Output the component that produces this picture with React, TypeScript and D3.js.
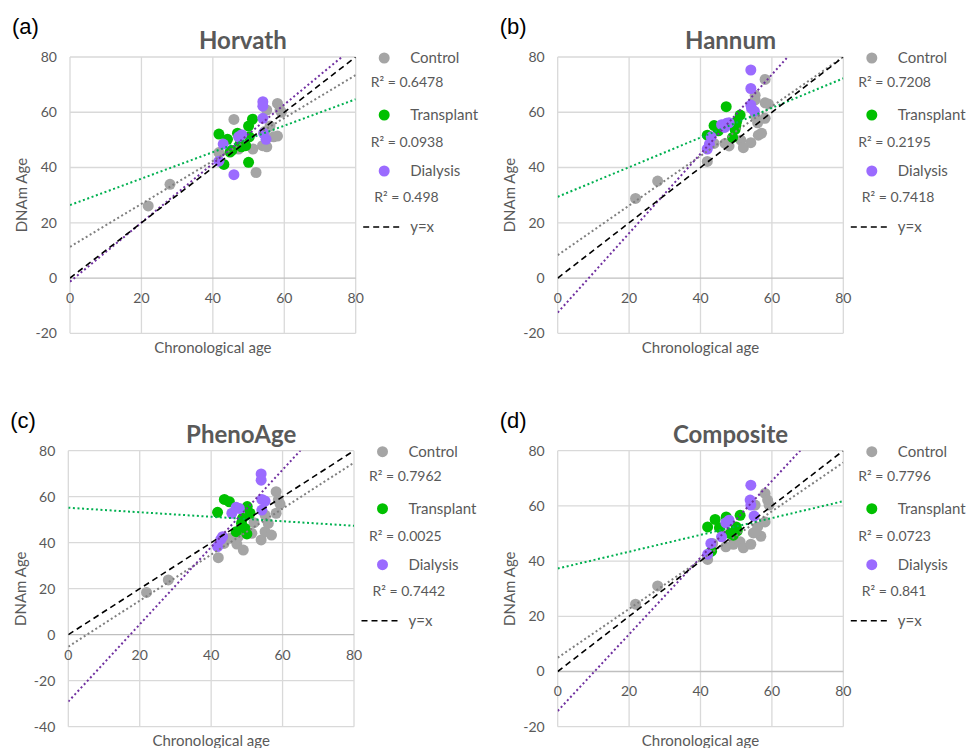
import * as d3 from "d3";

type Pt = [number, number];

// series shared by the four clocks
const seriesNames = ["Control", "Transplant", "Dialysis"];
const markerColors = ["#a5a5a5", "#00c000", "#9b6bff"];
const trendColors = ["#7f7f7f", "#00b050", "#7030a0"];
const xTickValues = [0, 20, 40, 60, 80];

// (a) Horvath
const horvathControl: Pt[] = [
  [21.9, 26.1], [28, 33.9], [41.7, 45.4], [45.9, 57.4], [47.2, 46.7], [51.2, 46.7],
  [52.1, 38.2], [53.9, 47.9], [55.1, 47.5], [55.1, 60.8], [56, 55], [57, 51.1],
  [58.1, 51.4], [58.1, 63.2], [58.8, 60.8], [59.2, 60], [54.5, 53],
];
const horvathTransplant: Pt[] = [
  [41.7, 52.1], [43.1, 41.1], [44.1, 50.2], [44.8, 45.6], [45.3, 46.2], [46.9, 52.4],
  [47.6, 48.5], [49.2, 47.9], [50, 41.9], [50, 55], [51.1, 57.5], [50.2, 51.1], [48, 47.5],
];
const horvathDialysis: Pt[] = [
  [41.7, 42.3], [42.9, 48.5], [45.9, 37.4], [47.2, 51.1], [48.1, 51.9], [54, 57.8],
  [54, 63.8], [54, 62.2], [54.9, 50.2], [54.2, 52.4],
];
const horvathFits: Pt[] = [[11.3, 0.777], [26.4, 0.479], [-1.3, 1.068]];
const horvathR2 = ["0.6478", "0.0938", "0.498"];

// (b) Hannum
const hannumControl: Pt[] = [
  [21.8, 28.8], [28, 35.1], [41.9, 42.2], [43.8, 48.7], [46.9, 48.7], [48, 47.8],
  [51.3, 49.9], [52, 47.2], [54.1, 49], [55.3, 66.2], [55.3, 64.5], [56, 56.2],
  [56.2, 51.7], [57.1, 52.4], [58.1, 71.9], [58.1, 63.4], [59, 63], [58.1, 57.8], [55.3, 58.6],
];
const hannumTransplant: Pt[] = [
  [41.9, 51.7], [43.8, 55.2], [45, 53.3], [47.2, 62], [49, 50.9], [49.7, 53.8],
  [50.1, 56.6], [51.1, 59], [49.9, 55.2],
];
const hannumDialysis: Pt[] = [
  [41.9, 46.7], [43, 51.1], [42.5, 48.5], [45.9, 55.5], [47.3, 56], [48, 56.2], [46.8, 54.5],
  [54.1, 75.3], [54.1, 68.6], [54.1, 62.6], [54.3, 61.4], [55.1, 60.4],
];
const hannumFits: Pt[] = [[8.3, 0.897], [29.4, 0.536], [-12.5, 1.436]];
const hannumR2 = ["0.7208", "0.2195", "0.7418"];

// (c) PhenoAge
const phenoControl: Pt[] = [
  [21.9, 18.4], [28, 23.8], [42, 33.5], [43.6, 39.7], [45.3, 41.9], [47.2, 39.4],
  [47.6, 42.6], [49, 36.8], [51.4, 44.1], [52, 48.7], [54, 41.2], [55.1, 44.8],
  [55.1, 52], [56, 48.4], [56.9, 43.3], [58.2, 62.2], [58.2, 52.8], [58.8, 58.6], [59.3, 56.8],
];
const phenoTransplant: Pt[] = [
  [41.8, 53.2], [43.7, 58.8], [45.1, 57.8], [47, 44.8], [48.8, 50.6], [49.5, 46.2],
  [50, 43.8], [50.1, 55.7], [50.9, 52.8], [48.5, 48.5],
];
const phenoDialysis: Pt[] = [
  [41.8, 38.3], [42.7, 41.4], [43.2, 42.6], [45.8, 52.8], [47, 55.4], [47.9, 54.9],
  [54, 69.9], [54, 67.2], [54.2, 58.8], [54.2, 54.2], [55.1, 58.1],
];
const phenoFits: Pt[] = [[-5.2, 1.0], [55.2, -0.098], [-29.1, 1.68]];
const phenoR2 = ["0.7962", "0.0025", "0.7442"];

// (d) Composite
const compControl: Pt[] = [
  [21.8, 24.4], [28, 31], [42, 40.6], [43.4, 46.4], [47.1, 45.2], [49.2, 46.1],
  [51.1, 47], [52, 44.8], [54.1, 46.1], [54.8, 50.2], [55.3, 60.3], [56, 52.4],
  [56.9, 49], [58.1, 64.5], [58.1, 54.2], [58.8, 62.1], [59.2, 60.3], [55.5, 50.5],
];
const compTransplant: Pt[] = [
  [42, 52.4], [43.1, 43.6], [44.1, 55.1], [45.3, 52.1], [47.2, 56], [48.3, 50],
  [49.2, 49.4], [50, 52.4], [50.3, 51], [51.1, 56.6],
];
const compDialysis: Pt[] = [
  [42, 42.5], [42.9, 46.4], [45.9, 48.8], [47.1, 53.9], [48, 54.8], [54.1, 67.5],
  [53.9, 62.1], [54.1, 60.3], [55, 56.3],
];
const compFits: Pt[] = [[5.0, 0.884], [37.3, 0.305], [-14.3, 1.389]];
const compR2 = ["0.7796", "0.0723", "0.841"];

const panels = [
  {
    id: "a", label: "(a)", title: "Horvath", left: 70, right: 355.7, top: 57, bottom: 333.3,
    yMin: -20, series: [horvathControl, horvathTransplant, horvathDialysis], fits: horvathFits, r2: horvathR2,
  },
  {
    id: "b", label: "(b)", title: "Hannum", left: 557.7, right: 843.3, top: 57, bottom: 333.3,
    yMin: -20, series: [hannumControl, hannumTransplant, hannumDialysis], fits: hannumFits, r2: hannumR2,
  },
  {
    id: "c", label: "(c)", title: "PhenoAge", left: 68.3, right: 354, top: 450.7, bottom: 726.7,
    yMin: -40, series: [phenoControl, phenoTransplant, phenoDialysis], fits: phenoFits, r2: phenoR2,
  },
  {
    id: "d", label: "(d)", title: "Composite", left: 557.7, right: 843.3, top: 450.7, bottom: 726.7,
    yMin: -20, series: [compControl, compTransplant, compDialysis], fits: compFits, r2: compR2,
  },
];

const FONT = "Lato, 'Open Sans', sans-serif";
const TEXT = "#595959";

function Panel({ p }: { p: (typeof panels)[number] }) {
  const x = d3.scaleLinear().domain([0, 80]).range([p.left, p.right]);
  const y = d3.scaleLinear().domain([p.yMin, 80]).range([p.bottom, p.top]);
  const yTicks = d3.range(p.yMin, 81, 20);
  const line = d3
    .line<Pt>()
    .x((d) => x(d[0]))
    .y((d) => y(d[1]));
  const cx = (p.left + p.right) / 2;
  const cy = (p.top + p.bottom) / 2;
  const R = p.right;
  const T = p.top;
  // legend rows: marker, r2 text
  const rowY = [0, 57, 113];
  const r2Y = [25, 85, 140];
  const r2X = [15, 15, 18.5];

  return (
    <g>
      <defs>
        <clipPath id={`clip-${p.id}`}>
          <rect x={p.left} y={p.top} width={p.right - p.left} height={p.bottom - p.top} />
        </clipPath>
      </defs>
      <text x={p.left - 58} y={p.top - 23} fontFamily="'Liberation Sans', Arial, sans-serif" fontSize={22} fill="#000">
        {p.label}
      </text>
      <text x={cx + 30} y={p.top - 8} textAnchor="middle" fontFamily={FONT} fontWeight={700} fontSize={24} fill={TEXT}>
        {p.title}
      </text>
      {/* grid */}
      {xTickValues.map((t) => (
        <line key={"gx" + t} x1={x(t)} x2={x(t)} y1={p.top} y2={p.bottom} stroke="#d9d9d9" strokeWidth={1.3} />
      ))}
      {yTicks.map((t) => (
        <line
          key={"gy" + t}
          x1={p.left}
          x2={p.right}
          y1={y(t)}
          y2={y(t)}
          stroke={t === 0 ? "#bfbfbf" : "#d9d9d9"}
          strokeWidth={1.3}
        />
      ))}
      {/* tick labels */}
      {yTicks.map((t) => (
        <text
          key={"ty" + t}
          x={p.left - 13}
          y={y(t)}
          dy="0.35em"
          textAnchor="end"
          fontFamily={FONT}
          fontSize={14}
          fill={TEXT}
        >
          {t}
        </text>
      ))}
      {xTickValues.map((t) => (
        <text
          key={"tx" + t}
          x={x(t)}
          y={y(0) + 20}
          dy="0.35em"
          textAnchor="middle"
          fontFamily={FONT}
          fontSize={14}
          fill={TEXT}
        >
          {t}
        </text>
      ))}
      {/* axis titles */}
      <text x={cx} y={p.bottom + 19.5} textAnchor="middle" fontFamily={FONT} fontSize={15} fill={TEXT}>
        Chronological age
      </text>
      <text
        transform={`translate(${p.left - 48},${cy}) rotate(-90)`}
        textAnchor="middle"
        dy="0.35em"
        fontFamily={FONT}
        fontSize={15}
        fill={TEXT}
      >
        DNAm Age
      </text>
      {/* points */}
      {p.series.map((pts, si) =>
        pts.map((d, i) => (
          <circle key={`p${si}-${i}`} cx={x(d[0])} cy={y(d[1])} r={5.5} fill={markerColors[si]} />
        ))
      )}
      {/* trendlines + y=x */}
      <g clipPath={`url(#clip-${p.id})`}>
        {p.fits.map((f, si) => (
          <path
            key={"f" + si}
            d={line([
              [0, f[0]],
              [80, f[0] + 80 * f[1]],
            ]) ?? ""}
            fill="none"
            stroke={trendColors[si]}
            strokeWidth={2}
            strokeDasharray="2 2.6"
          />
        ))}
        <path
          d={line([
            [0, 0],
            [80, 80],
          ]) ?? ""}
          fill="none"
          stroke="#000"
          strokeWidth={1.6}
          strokeDasharray="6 4"
        />
      </g>
      {/* legend */}
      {seriesNames.map((name, si) => (
        <g key={"lg" + si}>
          <circle cx={R + 28.5} cy={T + rowY[si] + 1} r={5.5} fill={markerColors[si]} />
          <text x={R + 54.5} y={T + rowY[si] + 1} dy="0.35em" fontFamily={FONT} fontSize={15} fill={TEXT}>
            {name}
          </text>
          <text x={R + r2X[si]} y={T + r2Y[si]} dy="0.35em" fontFamily={FONT} fontSize={14} fill={TEXT}>
            {`R² = ${p.r2[si]}`}
          </text>
        </g>
      ))}
      <line
        x1={R + 7.5}
        x2={R + 47.5}
        y1={T + 170}
        y2={T + 170}
        stroke="#000"
        strokeWidth={1.6}
        strokeDasharray="6 4"
      />
      <text x={R + 54.5} y={T + 170} dy="0.35em" fontFamily={FONT} fontSize={15} fill={TEXT}>
        y=x
      </text>
    </g>
  );
}

export default function App() {
  return (
    <svg
      width={971}
      height={748}
      style={{ position: "absolute", left: 0, top: 0, background: "#fff" }}
    >
      {panels.map((p) => (
        <Panel key={p.id} p={p} />
      ))}
    </svg>
  );
}
